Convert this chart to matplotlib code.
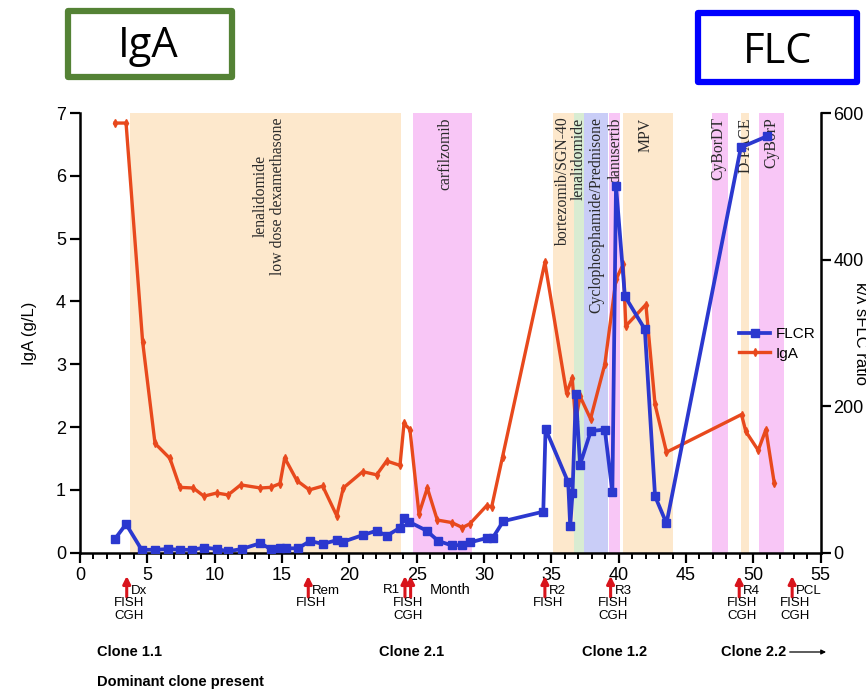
import matplotlib
matplotlib.use("Agg")
import matplotlib.pyplot as plt
from matplotlib.patches import Rectangle
from matplotlib.transforms import blended_transform_factory
from matplotlib.ticker import MultipleLocator

plt.rcParams['font.family'] = ['Liberation Sans', 'DejaVu Sans']

# ---------------- data ----------------
iga_month = [2.6, 3.42, 4.65, 5.57, 6.68, 7.42, 8.41, 9.2, 10.15, 11.0, 11.93, 13.4, 14.15, 14.85,
             15.2, 16.1, 17.03, 18.02, 19.06, 19.55, 20.99, 22.03, 22.77, 23.76, 24.06, 24.5,
             25.17, 25.79, 26.53, 27.6, 28.4, 28.95, 30.2, 30.57, 31.38, 34.52, 36.13, 36.55,
             36.8, 37.13, 37.91, 38.97, 39.8, 40.33, 40.53, 42.02, 42.7, 43.55, 49.12, 49.44,
             50.36, 50.93, 51.55]
iga_value = [6.84, 6.84, 3.36, 1.74, 1.50, 1.04, 1.03, 0.90, 0.95, 0.92, 1.08, 1.03, 1.04, 1.10,
             1.51, 1.15, 1.00, 1.06, 0.59, 1.03, 1.29, 1.24, 1.46, 1.39, 2.06, 1.96,
             0.62, 1.03, 0.52, 0.48, 0.40, 0.46, 0.75, 0.73, 1.53, 4.62, 2.54, 2.78,
             2.09, 2.49, 2.13, 3.00, 4.35, 4.59, 3.61, 3.95, 2.36, 1.60, 2.20, 1.93,
             1.63, 1.96, 1.11]

flcr_month = [2.6, 3.42, 4.58, 5.57, 6.56, 7.42, 8.34, 9.23, 10.15, 11.0, 12.0, 13.4, 14.15, 14.85,
              15.3, 16.2, 17.08, 18.02, 19.06, 19.55, 20.99, 22.03, 22.77, 23.76, 24.06, 24.45,
              25.74, 26.6, 27.6, 28.34, 28.95, 30.2, 30.64, 31.43, 34.4, 34.57, 36.25, 36.4,
              36.57, 36.82, 37.13, 37.93, 38.97, 39.53, 39.8, 40.46, 41.94, 42.7, 43.55,
              49.07, 50.98]
flcr_value = [19, 39, 4, 4, 5, 4, 4, 7, 5, 2, 5, 13, 5, 7,
              6, 6, 16, 12, 17, 15, 24, 30, 23, 34, 47, 42,
              30, 16, 10, 10.5, 14, 20, 20, 43, 56, 169, 96, 36,
              81, 216, 120, 166, 168, 83, 501, 350, 305, 77, 40,
              553, 568]

# treatments
treat_start = [3.72, 24.76, 35.1, 36.7, 37.4, 39.3, 40.3, 46.9, 49.1, 50.4]
treat_end = [23.8, 29.1, 36.7, 37.4, 39.2, 40.1, 44.0, 48.1, 49.7, 52.3]
treat_color = ['peach', 'pink', 'peach', 'green', 'blue', 'pink', 'peach', 'pink', 'peach', 'pink']
treat_label = ['lenalidomide\nlow dose dexamethasone', 'carfilzomib', 'bortezomib/SGN-40',
               'lenalidomide', 'Cyclophosphamide/Prednisone', 'danusertib', 'MPV',
               'CyBorDT', 'D-PACE', 'CyBorP']
treat_label_x = [14.05, 27.1, 35.88, 37.07, 38.36, 39.72, 42.02, 47.39, 49.42, 51.35]

# events
event_month = [3.47, 16.95, 24.13, 24.55, 34.52, 39.4, 48.95, 52.88]
event_name = ['Dx', 'Rem', 'R1', '', 'R2', 'R3', 'R4', 'PCL']
event_tests = ['FISH\nCGH', 'FISH', 'FISH\nCGH', '', 'FISH', 'FISH\nCGH', 'FISH\nCGH', 'FISH\nCGH']

clone_label = ['Clone 1.1', 'Clone 2.1', 'Clone 1.2', 'Clone 2.2']
clone_month = [1.25, 22.2, 37.3, 47.6]

x_ticks = [0, 5, 10, 15, 20, 25, 30, 35, 40, 45, 50, 55]
left_ticks = [0, 1, 2, 3, 4, 5, 6, 7]
right_ticks = [0, 200, 400, 600]

# ---------------- styles ----------------
palette = {'peach': '#fde8cc', 'pink': '#f8c6f6', 'green': '#d8ecd2', 'blue': '#c9cdf7'}
RED = '#e8491d'
BLUE = '#2b38cf'
W, H = 866, 689

def fx(px):
    return px / W

def fy(py):
    return 1 - py / H

fig = plt.figure(figsize=(W / 100, H / 100), dpi=100)
ax = fig.add_axes([fx(80), fy(552.7), fx(820.7) - fx(80), fy(113) - fy(552.7)])
ax2 = ax.twinx()

for s, e, c in zip(treat_start, treat_end, treat_color):
    ax.axvspan(s, e, ymin=0, ymax=1, color=palette[c], lw=0, zorder=0)
for lab, lx in zip(treat_label, treat_label_x):
    ax.text(lx, 6.93, lab, rotation=90, ha='center', va='top', multialignment='center',
            family=['Liberation Serif', 'DejaVu Serif'], fontsize=11.3, color='#2a2a2a',
            linespacing=1.05, zorder=1)

l_iga, = ax.plot(iga_month, iga_value, color=RED, lw=2.4, marker='d', ms=4,
                 mec=RED, mfc=RED, zorder=3, label='IgA')
l_flcr, = ax2.plot(flcr_month, flcr_value, color=BLUE, lw=2.7, marker='s', ms=6,
                   mec=BLUE, mfc=BLUE, zorder=4, label='FLCR')

ax.set_xlim(0, 55)
ax.set_ylim(0, 7)
ax2.set_ylim(0, 600)
ax.set_xticks(x_ticks)
ax.xaxis.set_minor_locator(MultipleLocator(1))
ax.set_yticks(left_ticks)
ax2.set_yticks(right_ticks)

for a in (ax, ax2):
    a.spines['top'].set_visible(False)
    for sp in a.spines.values():
        sp.set_linewidth(1.8)
ax.spines['right'].set_visible(False)
ax2.spines['left'].set_visible(False)
ax2.spines['bottom'].set_visible(False)

ax.tick_params(axis='both', which='major', direction='out', length=7, width=1.6,
               labelsize=13, pad=3)
ax.tick_params(axis='x', which='minor', direction='out', length=4.5, width=1.4)
ax2.tick_params(axis='y', which='major', direction='out', length=7, width=1.6,
                labelsize=13, pad=2)

ax.set_ylabel('IgA (g/L)', fontsize=12, labelpad=14)
fig.text(fx(860), fy(333), 'κ/λ sFLC ratio', rotation=270, ha='center', va='center',
         fontsize=12)

leg = ax2.legend([l_flcr, l_iga], ['FLCR', 'IgA'], loc='center left',
                 bbox_to_anchor=(0.88, 0.475), frameon=False, fontsize=11,
                 handlelength=2.0, handletextpad=0.4, labelspacing=0.35, borderpad=0)

# ---------------- annotations below axis ----------------
tr = blended_transform_factory(ax.transData, fig.transFigure)
for m, name, tests in zip(event_month, event_name, event_tests):
    ax.annotate('', xy=(m, fy(576)), xytext=(m, fy(597)), xycoords=tr, textcoords=tr,
                arrowprops=dict(arrowstyle='-|>', color='#d8141c', lw=2.2,
                                mutation_scale=11, shrinkA=0, shrinkB=0),
                annotation_clip=False)
    if name == 'R1':
        ax.text(m - 0.35, fy(590), name, transform=tr, ha='right', va='center', fontsize=9.5)
    elif name:
        ax.text(m + 0.3, fy(591), name, transform=tr, ha='left', va='center', fontsize=9.5)
    if tests:
        off = 0.21 if name == 'R1' else 0.2
        ax.text(m + off, fy(597), tests, transform=tr, ha='center', va='top',
                fontsize=9.5, linespacing=1.15)

ax.text(26.0, fy(590), 'Month', transform=tr, ha='left', va='center', fontsize=10.5)

for lab, m in zip(clone_label, clone_month):
    ax.text(m, fy(652), lab, transform=tr, ha='left', va='center', fontsize=10.5,
            fontweight='bold')
ax.annotate('', xy=(55.4, fy(652)), xytext=(52.7, fy(652)), xycoords=tr, textcoords=tr,
            arrowprops=dict(arrowstyle='-|>', color='black', lw=0.9, mutation_scale=7,
                            shrinkA=0, shrinkB=0), annotation_clip=False)
ax.text(1.25, fy(682), 'Dominant clone present', transform=tr, ha='left', va='center',
        fontsize=10.5, fontweight='bold')

# ---------------- top boxes ----------------
fig.patches.append(Rectangle((fx(68), fy(77)), fx(232) - fx(68), fy(11) - fy(77),
                             transform=fig.transFigure, fill=False, edgecolor='#548235',
                             lw=4.5, joinstyle='round'))
fig.text(fx(148), fy(46), 'IgA', ha='center', va='center', fontsize=30,
         family=['Open Sans', 'DejaVu Sans'])
fig.patches.append(Rectangle((fx(698), fy(82)), fx(857) - fx(698), fy(13) - fy(82),
                             transform=fig.transFigure, fill=False, edgecolor='#0000ff',
                             lw=4.5, joinstyle='round'))
fig.text(fx(778), fy(52), 'FLC', ha='center', va='center', fontsize=30,
         family=['Open Sans', 'DejaVu Sans'])

fig.savefig('out.png', dpi=100)
